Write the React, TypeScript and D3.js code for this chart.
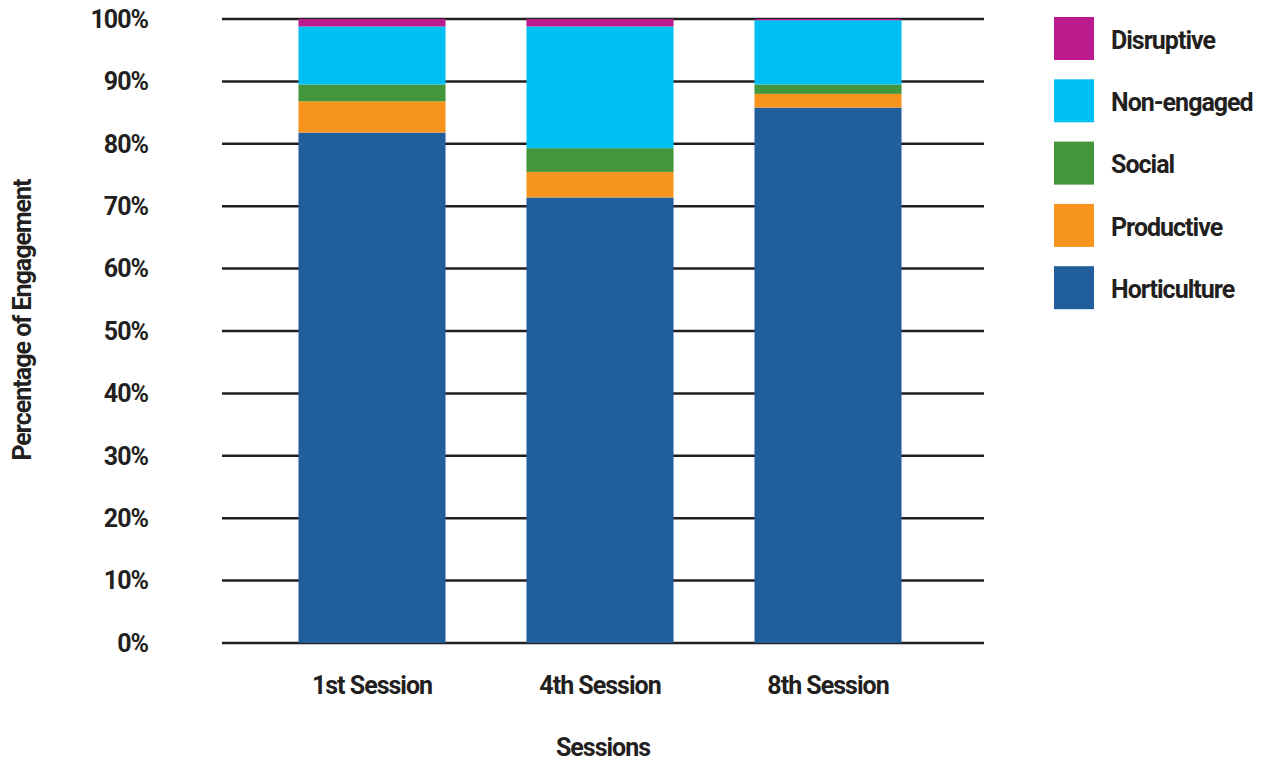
import React, { useEffect, useRef } from 'react';
import * as d3 from 'd3';

const sessions = ['1st Session', '4th Session', '8th Session'];
// stack order bottom -> top
const categories = ['Horticulture', 'Productive', 'Social', 'Non-engaged', 'Disruptive'];
const horticulture = [81.8, 71.4, 85.8];
const productive = [5.0, 4.1, 2.2];
const social = [2.7, 3.8, 1.5];
const nonEngaged = [9.3, 19.5, 10.3];
const disruptive = [1.2, 1.2, 0.2];
const colors = ['#215e9c', '#f7941e', '#43963b', '#00bff3', '#bc1b8d'];
const yTicks = [0, 10, 20, 30, 40, 50, 60, 70, 80, 90, 100];

const WIDTH = 1263;
const HEIGHT = 765;
const FONT = 'Roboto, "Liberation Sans", sans-serif';
const INK = '#231f20';

const App: React.FC = () => {
  const svgRef = useRef<SVGSVGElement>(null);

  useEffect(() => {
    if (!svgRef.current) return;
    const svg = d3.select(svgRef.current);
    svg.selectAll('*').remove();

    const seriesValues = [horticulture, productive, social, nonEngaged, disruptive];
    const rows = sessions.map((s, i) => {
      const row: any = { session: s };
      categories.forEach((c, k) => { row[c] = seriesValues[k][i]; });
      return row;
    });
    const stacked = d3.stack<any>().keys(categories)(rows);

    const x = d3.scaleBand()
      .domain(sessions)
      .range([258, 942])
      .paddingInner(0.355)
      .paddingOuter(0.1775);

    const y = d3.scaleLinear()
      .domain([0, 100])
      .range([643, 19]);

    const label = (sel: any) => sel
      .attr('font-family', FONT)
      .attr('font-weight', 'bold')
      .attr('font-size', '25px')
      .attr('letter-spacing', '-1px')
      .attr('fill', INK);

    // gridlines
    svg.append('g')
      .selectAll('line')
      .data(yTicks)
      .join('line')
      .attr('x1', 222)
      .attr('x2', 984)
      .attr('y1', d => y(d))
      .attr('y2', d => y(d))
      .attr('stroke', INK)
      .attr('stroke-width', 2.5);

    // y tick labels
    svg.append('g')
      .selectAll('text')
      .data(yTicks)
      .join('text')
      .attr('x', 148)
      .attr('y', d => y(d))
      .attr('dy', '0.35em')
      .attr('text-anchor', 'end')
      .call(label)
      .text(d => `${d}%`);

    // bars
    stacked.forEach((layer, k) => {
      svg.append('g')
        .attr('fill', colors[k])
        .selectAll('rect')
        .data(layer)
        .join('rect')
        .attr('x', d => x(d.data.session) as number)
        .attr('width', x.bandwidth())
        .attr('y', d => y(d[1]))
        .attr('height', d => y(d[0]) - y(d[1]));
    });

    // x labels
    svg.append('g')
      .selectAll('text')
      .data(sessions)
      .join('text')
      .attr('x', d => (x(d) as number) + x.bandwidth() / 2)
      .attr('y', 685)
      .attr('dy', '0.35em')
      .attr('text-anchor', 'middle')
      .call(label)
      .text(d => d);

    svg.append('text')
      .attr('x', 603)
      .attr('y', 747)
      .attr('dy', '0.35em')
      .attr('text-anchor', 'middle')
      .call(label)
      .text('Sessions');

    svg.append('text')
      .attr('transform', 'translate(22,320) rotate(-90)')
      .attr('dy', '0.35em')
      .attr('text-anchor', 'middle')
      .call(label)
      .text('Percentage of Engagement');

    // legend, top to bottom
    const legendItems = categories.map((c, k) => ({ name: c, color: colors[k] })).reverse();
    const lg = svg.append('g');
    legendItems.forEach((item, i) => {
      const ly = 17 + i * 62.3;
      lg.append('rect')
        .attr('x', 1054)
        .attr('y', ly)
        .attr('width', 40)
        .attr('height', 43)
        .attr('fill', item.color);
      lg.append('text')
        .attr('x', 1111)
        .attr('y', ly + 23)
        .attr('dy', '0.35em')
        .call(label)
        .text(item.name);
    });
  }, []);

  return (
    <svg
      ref={svgRef}
      width={WIDTH}
      height={HEIGHT}
      style={{ position: 'absolute', left: 0, top: 0, background: '#fff' }}
    />
  );
};

export default App;
